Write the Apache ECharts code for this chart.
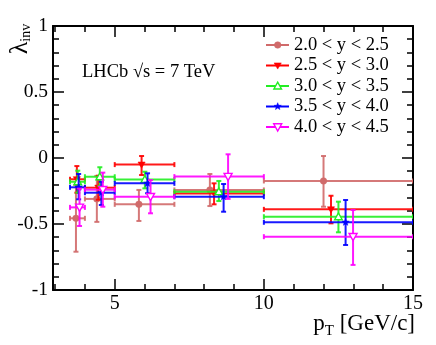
<!DOCTYPE html>
<html>
<head>
<meta charset="utf-8">
<script src="https://cdn.jsdelivr.net/npm/echarts@6/dist/echarts.min.js"></script>
<style>
html,body{margin:0;padding:0;background:#fff;}
#chart{width:436px;height:345px;}
</style>
</head>
<body>
<div id="chart"></div>
<script>
// ---- data ----
const binLo = [3.5, 4, 5, 7, 10];
const binHi = [4, 5, 7, 10, 15];
const seriesNames = ['2.0 < y < 2.5', '2.5 < y < 3.0', '3.0 < y < 3.5', '3.5 < y < 4.0', '4.0 < y < 4.5'];

const pt1 = [3.70, 4.40, 5.81, 8.19, 12.00];
const val1 = [-0.457, -0.310, -0.351, -0.242, -0.174];
const lo1 = [-0.710, -0.484, -0.477, -0.364, -0.369];
const hi1 = [-0.204, -0.136, -0.242, -0.121, 0.015];

const pt2 = [3.73, 4.45, 5.90, 8.33, 12.25];
const val2 = [-0.161, -0.225, -0.050, -0.268, -0.389];
const lo2 = [-0.263, -0.316, -0.129, -0.351, -0.495];
const hi2 = [-0.061, -0.134, 0.015, -0.192, -0.286];

const pt3 = [3.76, 4.50, 6.01, 8.49, 12.50];
const val3 = [-0.180, -0.142, -0.162, -0.255, -0.445];
const lo3 = [-0.263, -0.212, -0.230, -0.326, -0.563];
const hi3 = [-0.096, -0.070, -0.104, -0.174, -0.331];

const pt4 = [3.79, 4.55, 6.10, 8.65, 12.74];
const val4 = [-0.222, -0.263, -0.192, -0.293, -0.487];
const lo4 = [-0.313, -0.356, -0.267, -0.407, -0.659];
const hi4 = [-0.121, -0.180, -0.116, -0.197, -0.318];

const pt5 = [3.82, 4.60, 6.20, 8.80, 12.99];
const val5 = [-0.374, -0.240, -0.293, -0.141, -0.596];
const lo5 = [-0.515, -0.369, -0.419, -0.310, -0.810];
const hi5 = [-0.232, -0.111, -0.167, 0.028, -0.394];

const xMajorTicks = [5, 10, 15];
const xMinorTicks = [3, 4, 6, 7, 8, 9, 11, 12, 13, 14];
const yMajorTicks = [-1, -0.5, 0, 0.5, 1];
const yMinorTicks = [-0.9, -0.8, -0.7, -0.6, -0.4, -0.3, -0.2, -0.1, 0.1, 0.2, 0.3, 0.4, 0.6, 0.7, 0.8, 0.9];

const X_MIN = 2.93, X_MAX = 15, Y_MIN = -1, Y_MAX = 1;

// ---- styling ----
const colors = ['#d06a6a', '#ff0000', '#22ee22', '#0000ff', '#ff00ff'];
const markers = ['circle', 'tridown', 'triup_open', 'star', 'tridown_open'];
const FONT = '"Liberation Serif", "DejaVu Serif", serif';

function markerEl(type, cx, cy, color) {
  if (type === 'circle') {
    return {type: 'circle', shape: {cx: cx, cy: cy, r: 3.3}, style: {fill: color, stroke: color, lineWidth: 0.5}, z2: 10};
  }
  if (type === 'tridown') {
    return {type: 'polygon', shape: {points: [[cx - 3.6, cy - 2.6], [cx + 3.6, cy - 2.6], [cx, cy + 3.6]]}, style: {fill: color, stroke: color, lineWidth: 0.5}, z2: 10};
  }
  if (type === 'triup_open') {
    return {type: 'polygon', shape: {points: [[cx - 3.8, cy + 3], [cx + 3.8, cy + 3], [cx, cy - 3.8]]}, style: {fill: '#fff', stroke: color, lineWidth: 1.4}, z2: 10};
  }
  if (type === 'tridown_open') {
    return {type: 'polygon', shape: {points: [[cx - 4, cy - 3.2], [cx + 4, cy - 3.2], [cx, cy + 4]]}, style: {fill: '#fff', stroke: color, lineWidth: 1.4}, z2: 10};
  }
  // star
  const pts = [];
  for (let k = 0; k < 10; k++) {
    const r = (k % 2 === 0) ? 3.8 : 1.6;
    const a = -Math.PI / 2 + k * Math.PI / 5;
    pts.push([cx + r * Math.cos(a), cy + r * Math.sin(a)]);
  }
  return {type: 'polygon', shape: {points: pts}, style: {fill: color, stroke: color, lineWidth: 0.5}, z2: 10};
}

function makeRender(mType, color) {
  return function (params, api) {
    const x = api.value(0), y = api.value(1), lo = api.value(2), hi = api.value(3);
    const bl = api.value(4), bh = api.value(5);
    const pc = api.coord([x, y]);
    const pl = api.coord([bl, y]);
    const ph = api.coord([bh, y]);
    const plo = api.coord([x, lo]);
    const phi = api.coord([x, hi]);
    const st = {stroke: color, lineWidth: 2, opacity: 0.9};
    const cap = 2.5;
    return {
      type: 'group',
      children: [
        {type: 'line', shape: {x1: pl[0], y1: pl[1], x2: ph[0], y2: ph[1]}, style: st},
        {type: 'line', shape: {x1: pl[0], y1: pl[1] - cap, x2: pl[0], y2: pl[1] + cap}, style: st},
        {type: 'line', shape: {x1: ph[0], y1: ph[1] - cap, x2: ph[0], y2: ph[1] + cap}, style: st},
        {type: 'line', shape: {x1: plo[0], y1: plo[1], x2: phi[0], y2: phi[1]}, style: st},
        {type: 'line', shape: {x1: plo[0] - cap, y1: plo[1], x2: plo[0] + cap, y2: plo[1]}, style: st},
        {type: 'line', shape: {x1: phi[0] - cap, y1: phi[1], x2: phi[0] + cap, y2: phi[1]}, style: st},
        markerEl(mType, pc[0], pc[1], color)
      ]
    };
  };
}

const allPt = [pt1, pt2, pt3, pt4, pt5];
const allVal = [val1, val2, val3, val4, val5];
const allLo = [lo1, lo2, lo3, lo4, lo5];
const allHi = [hi1, hi2, hi3, hi4, hi5];

const series = seriesNames.map(function (name, s) {
  const data = allPt[s].map(function (p, i) {
    return [p, allVal[s][i], allLo[s][i], allHi[s][i], binLo[i], binHi[i]];
  });
  return {
    name: name,
    type: 'custom',
    xAxisIndex: 0,
    yAxisIndex: 0,
    renderItem: makeRender(markers[s], colors[s]),
    encode: {x: [0, 4, 5], y: [1, 2, 3]},
    data: data,
    clip: true,
    z: 2 + s
  };
});

// legend drawn as graphic elements
const legendEls = [];
seriesNames.forEach(function (name, s) {
  const ry = 45 + s * 20.5;
  legendEls.push({type: 'line', shape: {x1: 266, y1: ry, x2: 289, y2: ry}, style: {stroke: colors[s], lineWidth: 2}});
  legendEls.push(markerEl(markers[s], 277.7, ry, colors[s]));
  legendEls.push({type: 'text', x: 294, y: ry, style: {text: name, font: '18.5px ' + FONT, fill: '#000', textAlign: 'left', textVerticalAlign: 'middle'}});
});

const axLine = {show: true, onZero: false, lineStyle: {color: '#000', width: 2}};
const noLine = {show: false, onZero: false};
const tickMajor = function (vals) { return {show: true, inside: true, length: 11, customValues: vals, lineStyle: {color: '#000', width: 1.5}}; };
const tickMinor = function (vals) { return {show: true, inside: true, length: 6, customValues: vals, lineStyle: {color: '#000', width: 1.5}}; };
const noLabel = {show: false};
const xBase = {type: 'value', min: X_MIN, max: X_MAX, splitLine: {show: false}};
const yBase = {type: 'value', min: Y_MIN, max: Y_MAX, splitLine: {show: false}};

const option = {
  animation: false,
  backgroundColor: '#fff',
  grid: {left: 53, top: 26, width: 360, height: 264, containLabel: false},
  xAxis: [
    Object.assign({}, xBase, {position: 'bottom', axisLine: axLine, axisTick: tickMajor(xMajorTicks),
      axisLabel: {show: true, customValues: xMajorTicks, margin: 4, color: '#000', fontFamily: FONT, fontSize: 20}}),
    Object.assign({}, xBase, {position: 'bottom', axisLine: noLine, axisTick: tickMinor(xMinorTicks), axisLabel: noLabel}),
    Object.assign({}, xBase, {position: 'top', axisLine: axLine, axisTick: tickMajor(xMajorTicks), axisLabel: noLabel}),
    Object.assign({}, xBase, {position: 'top', axisLine: noLine, axisTick: tickMinor(xMinorTicks), axisLabel: noLabel})
  ],
  yAxis: [
    Object.assign({}, yBase, {position: 'left', axisLine: axLine, axisTick: tickMajor(yMajorTicks),
      axisLabel: {show: true, customValues: yMajorTicks, margin: 5, color: '#000', fontFamily: FONT, fontSize: 19.5}}),
    Object.assign({}, yBase, {position: 'left', axisLine: noLine, axisTick: tickMinor(yMinorTicks), axisLabel: noLabel}),
    Object.assign({}, yBase, {position: 'right', axisLine: axLine, axisTick: tickMajor(yMajorTicks), axisLabel: noLabel}),
    Object.assign({}, yBase, {position: 'right', axisLine: noLine, axisTick: tickMinor(yMinorTicks), axisLabel: noLabel})
  ],
  series: series,
  graphic: [
    {type: 'group', children: legendEls},
    {type: 'text', x: 82, y: 72, style: {text: 'LHCb √s = 7 TeV', font: '18.5px ' + FONT, fill: '#000', textAlign: 'left', textVerticalAlign: 'middle'}},
    {type: 'text', x: 20, y: 39, rotation: Math.PI / 2,
      style: {text: '{a|λ}{b|inv}', textAlign: 'center', textVerticalAlign: 'middle',
        rich: {a: {fontFamily: FONT, fontSize: 26, fill: '#000', verticalAlign: 'bottom'},
               b: {fontFamily: FONT, fontSize: 14, fill: '#000', padding: [12, 0, 0, 0], verticalAlign: 'bottom'}}}},
    {type: 'text', x: 415, y: 324,
      style: {text: '{a|p}{b|T}{a| [GeV/c]}', textAlign: 'right', textVerticalAlign: 'middle',
        rich: {a: {fontFamily: FONT, fontSize: 23, fill: '#000'},
               b: {fontFamily: FONT, fontSize: 15, fill: '#000', padding: [14, 0, 0, 0]}}}}
  ]
};

const chart = echarts.init(document.getElementById('chart'), null, {renderer: 'canvas'});
chart.setOption(option);
</script>
</body>
</html>
